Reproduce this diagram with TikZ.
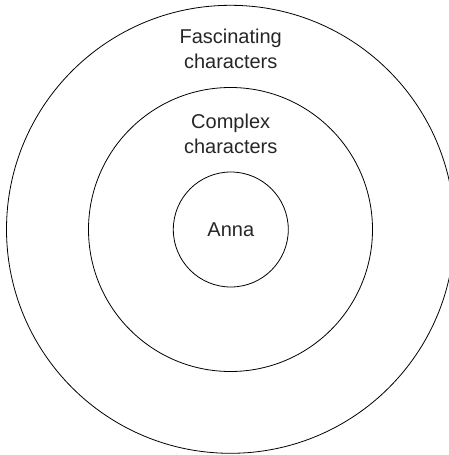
\documentclass[tikz,border=0pt]{standalone}
\usepackage{fontspec}
\setmainfont{Liberation Sans}
\begin{document}
\begin{tikzpicture}[x=1pt,y=-1pt,
  ring/.style={draw=black,line width=0.8pt,circle,minimum size=#1,inner sep=0pt},
  lbl/.style={text=black!85,font=\fontsize{20}{25}\selectfont,align=center,anchor=base}]
\useasboundingbox (0,0) rectangle (449,455);
\node[ring=448pt] (outer) at (230.5,229.3) {};
\node[ring=284pt] (middle) at (230.5,229.5) {};
\node[ring=115pt] (inner) at (230.8,229.5) {};
\node[lbl] (fas) at (230.7,43.3) {Fascinating};
\node[lbl] (fasc) at (230.7,68.3) {characters};
\node[lbl] (com) at (230.7,128.3) {Complex};
\node[lbl] (comc) at (230.7,153.3) {characters};
\node[lbl] (anna) at (230.8,236) {Anna};
\end{tikzpicture}
\end{document}
